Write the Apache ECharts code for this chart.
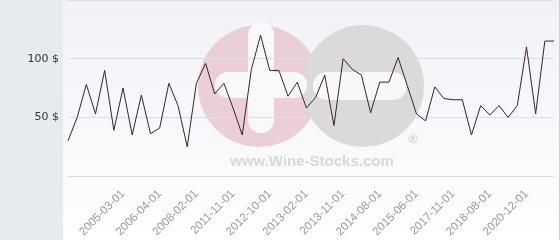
<!DOCTYPE html>
<html>
<head>
<meta charset="utf-8">
<script src="https://cdn.jsdelivr.net/npm/echarts@6/dist/echarts.min.js"></script>
<style>
html,body{margin:0;padding:0;background:#fff;}
#chart{width:560px;height:240px;}
</style>
</head>
<body>
<div id="chart"></div>
<script>
// Prices (in $) for each of the 54 points along the x axis
const prices = [
  30, 50, 78, 53, 90, 39, 75, 35, 69, 36,
  41, 79, 60, 25, 79, 96, 70, 79, 58, 35,
  91, 120, 90, 90, 68, 80, 58, 67, 86, 43,
  100, 91, 86, 54, 80, 80, 101, 77, 53, 47,
  76, 66, 65, 65, 35, 60, 52, 60, 50, 60,
  110, 53, 115, 115
];
// Tick labels readable on the x axis (one every fourth point, starting at the 7th)
const tickLabels = [
  '2005-03-01', '2006-04-01', '2008-02-01', '2011-11-01', '2012-10-01', '2013-02-01',
  '2013-11-01', '2014-08-01', '2015-06-01', '2017-11-01', '2018-08-01', '2020-12-01'
];
const firstLabelIndex = 6;
const labelStep = 4;
// Category names: known dates where labelled, others unknown (blank)
const categories = prices.map((_, i) => {
  const k = (i - firstLabelIndex) / labelStep;
  return (Number.isInteger(k) && k >= 0 && k < tickLabels.length) ? tickLabels[k] : '';
});
const yTicks = [50, 100];

const chart = echarts.init(document.getElementById('chart'), null, {renderer: 'canvas'});
chart.setOption({
  animation: false,
  backgroundColor: '#ffffff',
  graphic: [
    {type: 'rect', z: -10, shape: {x: 0, y: 0, width: 63, height: 240}, style: {fill: '#e7ebee'}},
    {type: 'rect', z: -10, shape: {x: 63, y: 0, width: 496, height: 240},
      style: {fill: new echarts.graphic.LinearGradient(0, 0, 0, 1, [
        {offset: 0, color: '#f0f2f7'}, {offset: 0.75, color: '#fbfbfd'}, {offset: 1, color: '#ffffff'}])}},
    {type: 'line', z: -9, shape: {x1: 559.5, y1: 0, x2: 559.5, y2: 240}, style: {stroke: '#d0d0d0', lineWidth: 1}},
    {type: 'circle', z: -8, shape: {cx: 259, cy: 86, r: 61}, style: {fill: '#eacfd6'}},
    {type: 'circle', z: -8, shape: {cx: 363, cy: 86, r: 61}, style: {fill: '#dadadb'}},
    {type: 'rect', z: -7, shape: {x: 248, y: 22, width: 26, height: 111, r: 13}, style: {fill: '#f9f9fb'}},
    {type: 'rect', z: -7, shape: {x: 215, y: 72, width: 92, height: 26, r: 13}, style: {fill: '#f9f9fb'}},
    {type: 'rect', z: -7, shape: {x: 313, y: 72, width: 94, height: 28, r: 14}, style: {fill: '#f8f8fa'}},
    {type: 'text', z: -7, style: {x: 312, y: 162, text: 'www.Wine-Stocks.com', fill: '#d9d9db',
      font: 'bold 15px "Liberation Sans", Arial, sans-serif', align: 'center', verticalAlign: 'middle'}},
    {type: 'text', z: -7, style: {x: 413, y: 139, text: '®', fill: '#d3d3d5',
      font: 'bold 13px "Liberation Sans", Arial, sans-serif', align: 'center', verticalAlign: 'middle'}}
  ],
  grid: {left: 68, right: 6, top: 0, bottom: 62, containLabel: false},
  xAxis: {
    type: 'category',
    data: categories,
    boundaryGap: false,
    axisLine: {show: true, lineStyle: {color: '#e0e0e4', width: 1}},
    axisTick: {show: false},
    splitLine: {show: false},
    axisLabel: {
      interval: 0,
      rotate: 45,
      margin: 16,
      color: '#9a9a9a',
      fontSize: 11.5,
      fontFamily: '"Liberation Sans", Arial, sans-serif'
    }
  },
  yAxis: {
    type: 'value',
    min: 0,
    max: 150,
    interval: 50,
    axisLine: {show: false},
    axisTick: {show: false},
    splitLine: {show: true, lineStyle: {color: '#dedee4', width: 1}},
    axisLabel: {
      margin: 9,
      color: '#333',
      fontSize: 11,
      fontFamily: '"DejaVu Sans", sans-serif',
      formatter: v => yTicks.includes(v) ? v + ' $' : ''
    }
  },
  series: [{
    type: 'line',
    data: prices,
    symbol: 'none',
    lineStyle: {color: '#3a2030', width: 1},
    z: 5
  }]
});
</script>
</body>
</html>
